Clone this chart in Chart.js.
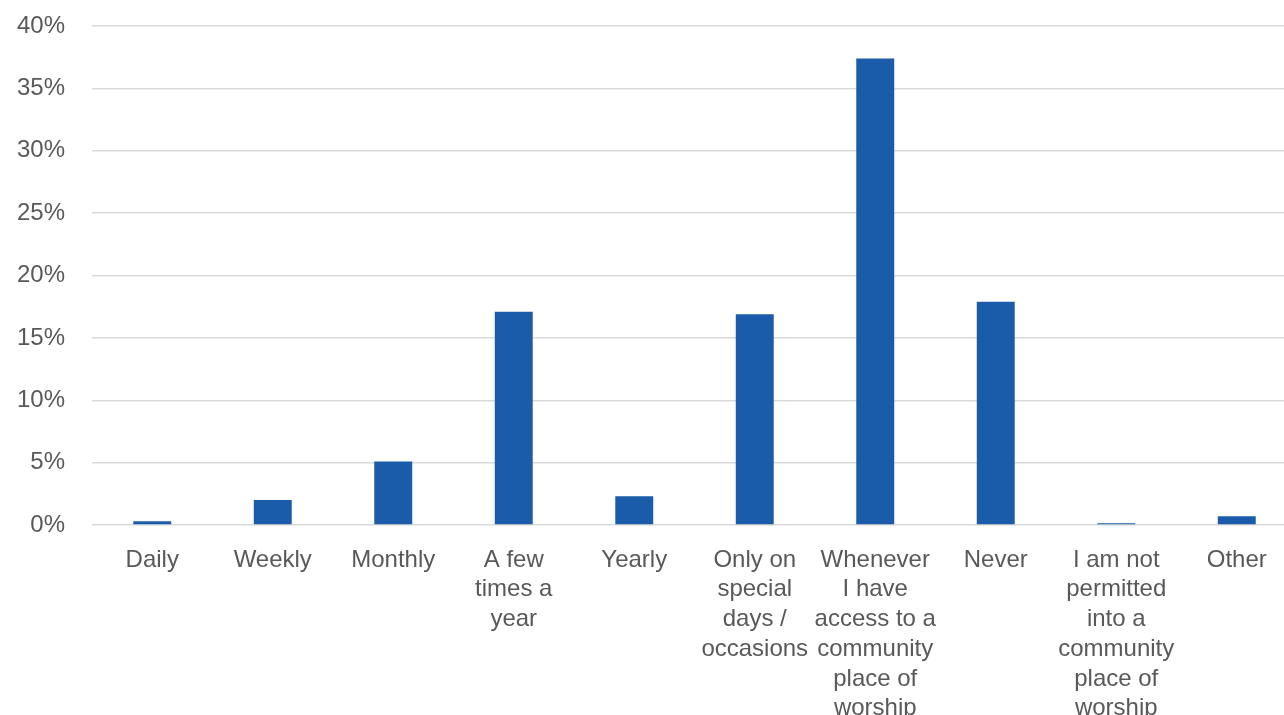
<!DOCTYPE html>
<html>
<head>
<meta charset="utf-8">
<script src="https://cdn.jsdelivr.net/npm/chart.js@4/dist/chart.umd.min.js"></script>
<style>
  html, body { margin: 0; padding: 0; background: #ffffff; overflow: hidden; }
  #wrap { position: absolute; left: 0; top: 0; width: 1300px; height: 720px; }
</style>
</head>
<body>
<div id="wrap"><canvas id="chart" width="1300" height="720"></canvas></div>
<script>
// How often respondents attend a community place of worship (% of respondents)
const categories = [
  ["Daily"],
  ["Weekly"],
  ["Monthly"],
  ["A few", "times a", "year"],
  ["Yearly"],
  ["Only on", "special", "days /", "occasions"],
  ["Whenever", "I have", "access to a", "community", "place of", "worship"],
  ["Never"],
  ["I am not", "permitted", "into a", "community", "place of", "worship"],
  ["Other"]
];
const shares = [0.3, 2.0, 5.1, 17.1, 2.3, 16.9, 37.4, 17.9, 0.15, 0.7];
const yTicks = [0, 5, 10, 15, 20, 25, 30, 35, 40];

const textColor = '#595959';
const fontFamily = '"Liberation Sans", Arial, sans-serif';

new Chart(document.getElementById('chart'), {
  type: 'bar',
  data: {
    labels: categories,
    datasets: [{
      data: shares,
      backgroundColor: '#1a5ca9',
      borderWidth: 0,
      categoryPercentage: 1,
      barPercentage: 0.315
    }]
  },
  options: {
    responsive: false,
    animation: false,
    events: [],
    layout: { padding: { left: 0, right: 3, top: 26, bottom: 0 } },
    plugins: {
      legend: { display: false },
      tooltip: { enabled: false }
    },
    scales: {
      x: {
        afterFit: (axis) => { axis.height = 195; },
        grid: { display: false, drawTicks: false },
        border: { display: false },
        ticks: {
          autoSkip: false,
          maxRotation: 0,
          minRotation: 0,
          padding: 20,
          color: textColor,
          font: { family: fontFamily, size: 24, lineHeight: 1.24 }
        }
      },
      y: {
        min: 0,
        max: 40,
        afterBuildTicks: (axis) => { axis.ticks = yTicks.map(v => ({ value: v })); },
        afterFit: (axis) => {
          axis.width = 92;
          axis.paddingTop = 0;
          axis.paddingBottom = 0;
        },
        grid: { color: '#d9d9d9', lineWidth: 1.5, drawTicks: false },
        border: { display: false },
        ticks: {
          padding: 27,
          color: textColor,
          font: { family: fontFamily, size: 24 },
          callback: (v) => v + '%'
        }
      }
    }
  }
});
</script>
</body>
</html>
